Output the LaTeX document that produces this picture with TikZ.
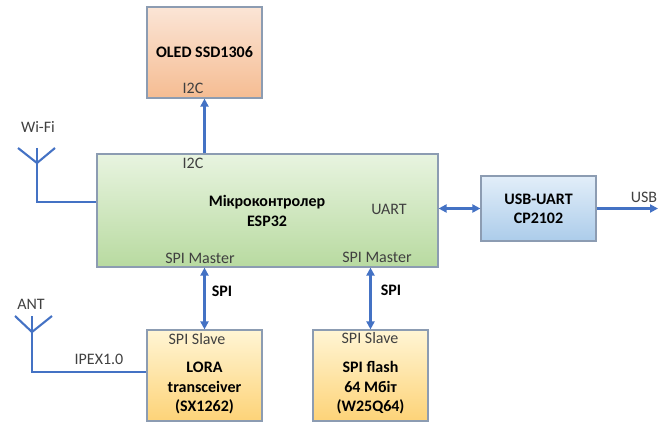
\documentclass[tikz,border=0pt]{standalone}
\usepackage{fontspec}
\setmainfont{Carlito}
\usepackage{tikz}
\usetikzlibrary{arrows.meta}

\definecolor{edgegray}{RGB}{140,156,178}
\definecolor{linkblue}{RGB}{68,114,196}
\definecolor{labelgray}{RGB}{64,64,64}
\definecolor{oledtop}{RGB}{251,229,214}
\definecolor{oledbot}{RGB}{245,188,146}
\definecolor{mcutop}{RGB}{232,244,224}
\definecolor{mcubot}{RGB}{184,218,160}
\definecolor{usbtop}{RGB}{226,238,249}
\definecolor{usbbot}{RGB}{172,204,234}
\definecolor{slavetop}{RGB}{255,245,212}
\definecolor{slavebot}{RGB}{253,211,120}

\begin{document}
\begin{tikzpicture}[x=1pt,y=-1pt,
	box/.style={draw=edgegray,line width=1.2pt,minimum width=115pt,minimum height=91pt,inner sep=0pt},
	link/.style={draw=linkblue,line width=2.1pt},
	arr/.style={link,-{Triangle[length=8pt,width=8pt]}},
	darr/.style={link,{Triangle[length=8pt,width=8pt]}-{Triangle[length=8pt,width=8pt]}},
	lbl/.style={text=labelgray,inner sep=0pt,font=\fontsize{16}{19}\selectfont},
	title/.style={text=black,inner sep=0pt,align=center,font=\fontsize{16}{19.5}\selectfont\bfseries}]
	\useasboundingbox (0,0) rectangle (672,425);
	% boxes
	\node[box,top color=oledtop,bottom color=oledbot] (oled) at (204.5,52.5) {};
	\node[box,minimum width=341pt,minimum height=113pt,top color=mcutop,bottom color=mcubot] (mcu) at (267.5,210.5) {};
	\node[box,minimum height=65pt,top color=usbtop,bottom color=usbbot] (usb) at (538.5,208.5) {};
	\node[box,top color=slavetop,bottom color=slavebot] (lora) at (204.5,375.5) {};
	\node[box,top color=slavetop,bottom color=slavebot] (flash) at (370.5,375.5) {};
	% texts
	\node[title] (oledname) at (204.5,52) {OLED SSD1306};
	\node[lbl] (oledi2c) at (193,88) {I2C};
	\node[title] (mcuname) at (267,211) {Мікроконтролер\\ESP32};
	\node[lbl] (mcui2c) at (193,163) {I2C};
	\node[lbl] (mcuuart) at (389,209) {UART};
	\node[lbl] (masterA) at (200,258) {SPI Master};
	\node[lbl] (masterB) at (377,257) {SPI Master};
	\node[title] (usbname) at (538.5,209) {USB-UART\\CP2102};
	\node[lbl] (slaveA) at (197,339) {SPI Slave};
	\node[lbl] (slaveB) at (370,338) {SPI Slave};
	\node[title] (loraname) at (204.5,388) {LORA\\transceiver\\(SX1262)};
	\node[title] (flashname) at (370.5,388) {SPI flash\\64 Мбіт\\(W25Q64)};
	% connectors
	\draw[arr] (mcu.north -| oled.south) -- (oled.south);
	\draw[darr] (mcu.east |- usb.west) -- (usb.west);
	\coordinate (usbout) at (658,208.5);
	\draw[arr] (usb.east) -- (usbout);
	\node[lbl] (usblbl) at (644,197) {USB};
	\draw[darr] (mcu.south -| lora.north) -- (lora.north);
	\draw[darr] (mcu.south -| flash.north) -- (flash.north);
	\node[title] (spiA) at (222,291) {SPI};
	\node[title] (spiB) at (391,290) {SPI};
	% antennas
	\coordinate (wifi) at (37,148);
	\coordinate (wifiin) at ([yshift=8.5pt]mcu.west);
	\draw[link] (wifi) ++(-19,0) -- ++(19,15) -- ++(18,-15);
	\draw[link] (wifi) |- (wifiin);
	\node[lbl] (wifilbl) at (38,127) {Wi-Fi};
	\coordinate (ant) at (32,316);
	\coordinate (antin) at ([yshift=3.5pt]lora.west);
	\draw[link] (ant) ++(-17,0) -- ++(17,16) -- ++(20,-16);
	\draw[link] (ant) |- (antin);
	\node[lbl] (antlbl) at (31,304) {ANT};
	\node[lbl] (ipex) at (99,359) {IPEX1.0};
\end{tikzpicture}
\end{document}
